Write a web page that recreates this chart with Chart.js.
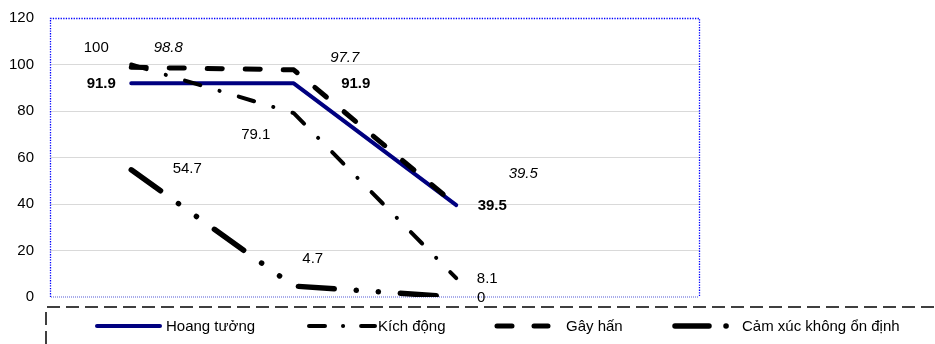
<!DOCTYPE html>
<html>
<head>
<meta charset="utf-8">
<script src="https://cdn.jsdelivr.net/npm/chart.js@4.4.1/dist/chart.umd.min.js"></script>
<style>
  html, body { margin: 0; padding: 0; background: #ffffff; }
  #wrap { width: 935px; height: 344px; position: relative; }
</style>
</head>
<body>
<div id="wrap"><canvas id="c" width="935" height="344"></canvas></div>
<script>
// ---- data ----
const categories = ['1', '2', '3', '4'];
const seriesNames = ['Hoang tưởng', 'Kích động', 'Gây hấn', 'Cảm xúc không ổn định'];
const hoangTuong = [91.9, 91.9, 39.5];
const kichDong = [100, 79.1, 8.1];
const gayHan = [98.8, 97.7, 39.5];
const camXuc = [54.7, 4.7, 0];
const yTicks = [0, 20, 40, 60, 80, 100, 120];

// ---- styles ----
const FONT = "'Liberation Sans', Arial, sans-serif";
const styles = [
  { color: '#000080', width: 4, dash: [], legendDash: [], cap: 'round', order: 10 },
  { color: '#000000', width: 4, dash: [16, 20, 0.1, 20], legendDash: [16, 18, 0.1, 18], cap: 'round', order: 2 },
  { color: '#000000', width: 5, dash: [15, 23], legendDash: [15, 22], cap: 'round', order: 1 },
  { color: '#000000', width: 5.5, dash: [36, 22, 0.1, 22, 0.1, 22], legendDash: [34, 17, 0.1, 100], cap: 'round', order: 3 }
];
// label offsets (px) relative to each point
const labelOffsets = [
  [[-30, 1], [62, 1], [36, 1]],
  [[-35, -17], [-38, 22], [31, 1]],
  [[37, -19], [51, -12], [67, -31]],
  [[56, -1], [19, -27], [25, 1]]
];
const labelFonts = ['bold 15px', 'normal 15px', 'italic 15px', 'normal 15px'];
const legendItems = [
  { x0: 97, x1: 160, tx: 166 },
  { x0: 309, x1: 375, tx: 378 },
  { x0: 497, x1: 548, tx: 566 },
  { x0: 675, x1: 727, tx: 742 }
];

const allSeries = [hoangTuong, kichDong, gayHan, camXuc];

const frame = {
  id: 'frame',
  beforeDatasetsDraw(chart) {
    const { ctx, chartArea: a } = chart;
    ctx.save();
    ctx.lineWidth = 1.3;
    ctx.setLineDash([1.3, 1.3]);
    ctx.strokeStyle = '#0000ff';
    ctx.beginPath();
    ctx.moveTo(a.left + 0.5, a.bottom);
    ctx.lineTo(a.left + 0.5, a.top + 0.5);
    ctx.lineTo(a.right - 0.5, a.top + 0.5);
    ctx.lineTo(a.right - 0.5, a.bottom);
    ctx.stroke();
    ctx.strokeStyle = '#a8acea';
    ctx.lineWidth = 2;
    ctx.setLineDash([1, 1]);
    ctx.beginPath();
    ctx.moveTo(a.left + 1, a.bottom);
    ctx.lineTo(a.right - 1, a.bottom);
    ctx.stroke();
    ctx.restore();
  }
};

const labelsPlugin = {
  id: 'valueLabels',
  afterDatasetsDraw(chart) {
    const { ctx } = chart;
    ctx.save();
    ctx.fillStyle = '#000000';
    ctx.textAlign = 'center';
    ctx.textBaseline = 'middle';
    chart.data.datasets.forEach((ds, i) => {
      const meta = chart.getDatasetMeta(i);
      ctx.font = labelFonts[i] + ' ' + FONT;
      meta.data.forEach((pt, j) => {
        const off = labelOffsets[i][j];
        ctx.fillText(String(ds.data[j]), pt.x + off[0], pt.y + off[1]);
      });
    });
    ctx.restore();
  }
};

const legendPlugin = {
  id: 'customLegend',
  afterDraw(chart) {
    const { ctx } = chart;
    ctx.save();
    ctx.strokeStyle = '#000000';
    ctx.lineWidth = 1.5;
    ctx.setLineDash([13, 6]);
    ctx.beginPath();
    ctx.moveTo(46, 344);
    ctx.lineTo(46, 307);
    ctx.lineTo(935, 307);
    ctx.stroke();
    const y = 326;
    chart.data.datasets.forEach((ds, i) => {
      const it = legendItems[i];
      const st = styles[i];
      ctx.strokeStyle = st.color;
      ctx.lineWidth = st.width;
      ctx.lineCap = st.cap;
      ctx.setLineDash(st.legendDash);
      ctx.beginPath();
      ctx.moveTo(it.x0, y);
      ctx.lineTo(it.x1, y);
      ctx.stroke();
      ctx.fillStyle = '#000000';
      ctx.font = 'normal 15px ' + FONT;
      ctx.textAlign = 'left';
      ctx.textBaseline = 'middle';
      ctx.fillText(ds.label, it.tx, y + 1);
    });
    ctx.restore();
  }
};

new Chart(document.getElementById('c'), {
  type: 'line',
  data: {
    labels: categories,
    datasets: allSeries.map((d, i) => ({
      label: seriesNames[i],
      data: d,
      borderColor: styles[i].color,
      backgroundColor: styles[i].color,
      borderWidth: styles[i].width,
      borderDash: styles[i].dash,
      borderCapStyle: styles[i].cap,
      borderJoinStyle: 'round',
      pointRadius: 0,
      pointHoverRadius: 0,
      tension: 0,
      fill: false,
      order: styles[i].order
    }))
  },
  options: {
    responsive: false,
    devicePixelRatio: 1,
    animation: false,
    events: [],
    layout: { padding: { top: 18, right: 235, bottom: 47, left: 0 } },
    plugins: {
      legend: { display: false },
      tooltip: { enabled: false },
      title: { display: false }
    },
    scales: {
      x: {
        type: 'category',
        offset: true,
        display: false,
        grid: { display: false }
      },
      y: {
        min: 0,
        max: 120,
        afterBuildTicks(scale) { scale.ticks = yTicks.map(v => ({ value: v })); },
        afterFit(scale) { scale.width = 50; scale.paddingTop = 0; scale.paddingBottom = 0; },
        border: { display: false },
        grid: {
          drawTicks: false,
          lineWidth: 1,
          color: (c) => (c.tick && (c.tick.value === 0 || c.tick.value === 120)) ? 'rgba(0,0,0,0)' : '#d9d9d9'
        },
        ticks: {
          padding: 16,
          color: '#000000',
          font: { family: FONT, size: 15 }
        }
      }
    }
  },
  plugins: [frame, labelsPlugin, legendPlugin]
});
</script>
</body>
</html>
